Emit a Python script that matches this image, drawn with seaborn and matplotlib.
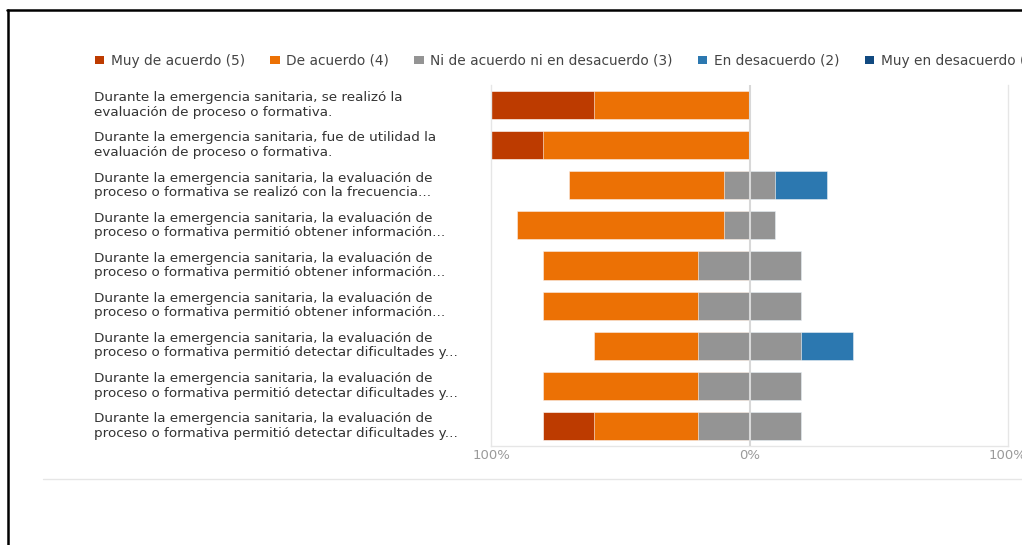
import numpy as np
import pandas as pd
import seaborn as sns
import matplotlib.pyplot as plt
from matplotlib.patches import Patch
from matplotlib.lines import Line2D

# respuestas (% de 5 encuestados)
preguntas = [
    "Durante la emergencia sanitaria, se realizó la\nevaluación de proceso o formativa.",
    "Durante la emergencia sanitaria, fue de utilidad la\nevaluación de proceso o formativa.",
    "Durante la emergencia sanitaria, la evaluación de\nproceso o formativa se realizó con la frecuencia...",
    "Durante la emergencia sanitaria, la evaluación de\nproceso o formativa permitió obtener información...",
    "Durante la emergencia sanitaria, la evaluación de\nproceso o formativa permitió obtener información...",
    "Durante la emergencia sanitaria, la evaluación de\nproceso o formativa permitió obtener información...",
    "Durante la emergencia sanitaria, la evaluación de\nproceso o formativa permitió detectar dificultades y...",
    "Durante la emergencia sanitaria, la evaluación de\nproceso o formativa permitió detectar dificultades y...",
    "Durante la emergencia sanitaria, la evaluación de\nproceso o formativa permitió detectar dificultades y...",
]
muy_de_acuerdo = [40, 20, 0, 0, 0, 0, 0, 0, 20]
de_acuerdo = [60, 80, 60, 80, 60, 60, 40, 60, 40]
ni_ni = [0, 0, 20, 20, 40, 40, 40, 40, 40]
en_desacuerdo = [0, 0, 20, 0, 0, 0, 20, 0, 0]
muy_en_desacuerdo = [0, 0, 0, 0, 0, 0, 0, 0, 0]

categorias = ["Muy de acuerdo (5)", "De acuerdo (4)", "Ni de acuerdo ni en desacuerdo (3)",
              "En desacuerdo (2)", "Muy en desacuerdo (1)"]
colores = ["#bd3b00", "#ec7105", "#949494", "#2c78b0", "#114a80"]
x_ticks = [-100, 0, 100]
x_ticklabels = ["100%", "0%", "100%"]

sns.set_style("white")
plt.rcParams['font.family'] = ['DejaVu Sans']

df = pd.DataFrame({
    "pregunta": [f"q{i}" for i in range(len(preguntas))],
    "ma": muy_de_acuerdo, "da": de_acuerdo, "nn": ni_ni,
    "ed": en_desacuerdo, "med": muy_en_desacuerdo,
})
half = df["nn"] / 2
# capas: las mas largas primero, las interiores encima
capas = [
    (-(half + df["da"] + df["ma"]), colores[0]),
    (-(half + df["da"]), colores[1]),
    (half + df["ed"] + df["med"], colores[4]),
    (half + df["ed"], colores[3]),
    (-half, colores[2]),
    (half, colores[2]),
]

fig = plt.figure(figsize=(10.22, 5.45), dpi=100)
ax = fig.add_axes([491 / 1022, 1 - 446 / 545, 517 / 1022, 361 / 545])

for vals, c in capas:
    sns.barplot(x=vals.values, y=df["pregunta"], color=c, width=0.7, orient="h",
                saturation=1, linewidth=0.4, edgecolor="white", ax=ax)

ax.axvline(0, color="#d8d8d8", lw=1.5, zorder=10)
ax.set_xlim(-100, 100)
ax.set_xticks(x_ticks)
ax.set_xticklabels(x_ticklabels, color="#9a9a9a", fontsize=9.5)
ax.set_yticks(range(len(preguntas)))
ax.set_yticklabels(preguntas, fontsize=9.7, color="#333333", ha="left",
                   va="center", linespacing=1.15)
for t in ax.get_yticklabels():
    t.set_y(t.get_position()[1])
ax.tick_params(axis="y", length=0, pad=397 * 0.72)
ax.tick_params(axis="x", length=0, pad=2)
ax.set_xlabel("")
ax.set_ylabel("")
ax.spines["top"].set_visible(False)
for s in ["left", "right", "bottom"]:
    ax.spines[s].set_color("#e6e6e6")
    ax.spines[s].set_linewidth(1)

handles = [Patch(facecolor=c, edgecolor="none") for c in colores]
fig.legend(handles, categorias, loc="center left", ncol=5, frameon=False,
           bbox_to_anchor=(89 / 1022, 1 - 61 / 545), fontsize=9.9,
           handlelength=0.7, handleheight=0.55, handletextpad=0.5,
           columnspacing=1.8, labelcolor="#444444", borderaxespad=0)

# marco y separador
fig.add_artist(Line2D([7 / 1022, 1], [1 - 10 / 545] * 2, color="black", lw=1.8,
                      transform=fig.transFigure))
fig.add_artist(Line2D([7.5 / 1022] * 2, [0, 1 - 10 / 545], color="black", lw=1.8,
                      transform=fig.transFigure))
fig.add_artist(Line2D([43 / 1022, 1], [1 - 479 / 545] * 2, color="#e6e6e6", lw=1,
                      transform=fig.transFigure))

fig.savefig("out.png", dpi=100)
